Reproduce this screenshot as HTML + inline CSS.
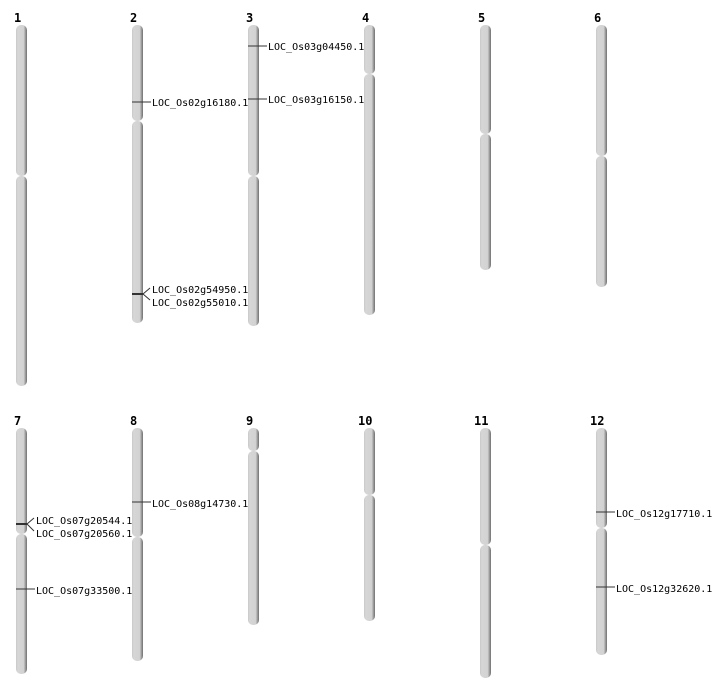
<!DOCTYPE html>
<html><head><meta charset="utf-8"><style>
html,body{margin:0;padding:0;background:#fff;}
svg{display:block;}
text{font-family:"DejaVu Sans Mono","Liberation Mono",monospace;font-size:10px;fill:#000;}
.n{font-family:"DejaVu Sans Mono","Liberation Mono",monospace;font-weight:bold;font-size:12px;}
</style></head><body>
<svg width="712" height="700" viewBox="0 0 712 700" xmlns="http://www.w3.org/2000/svg">
<defs>
<linearGradient id="g" x1="0" x2="1" y1="0" y2="0">
<stop offset="0" stop-color="#c8c8c8"/>
<stop offset="0.15" stop-color="#d6d6d6"/>
<stop offset="0.7" stop-color="#d2d2d2"/>
<stop offset="0.82" stop-color="#a8a8a8"/>
<stop offset="1" stop-color="#707070"/>
</linearGradient>
</defs>
<g fill="url(#g)">
<!-- top row -->
<rect x="16" y="25" width="11" height="151" rx="5"/><rect x="16" y="176" width="11" height="210" rx="5"/>
<rect x="132" y="25" width="11" height="96" rx="5"/><rect x="132" y="121" width="11" height="202" rx="5"/>
<rect x="248" y="25" width="11" height="151" rx="5"/><rect x="248" y="176" width="11" height="150" rx="5"/>
<rect x="364" y="25" width="11" height="49" rx="5"/><rect x="364" y="74" width="11" height="241" rx="5"/>
<rect x="480" y="25" width="11" height="109" rx="5"/><rect x="480" y="134" width="11" height="136" rx="5"/>
<rect x="596" y="25" width="11" height="131" rx="5"/><rect x="596" y="156" width="11" height="131" rx="5"/>
<!-- bottom row -->
<rect x="16" y="428" width="11" height="106" rx="5"/><rect x="16" y="534" width="11" height="140" rx="5"/>
<rect x="132" y="428" width="11" height="109" rx="5"/><rect x="132" y="537" width="11" height="124" rx="5"/>
<rect x="248" y="428" width="11" height="23" rx="5"/><rect x="248" y="451" width="11" height="174" rx="5"/>
<rect x="364" y="428" width="11" height="67" rx="5"/><rect x="364" y="495" width="11" height="126" rx="5"/>
<rect x="480" y="428" width="11" height="117" rx="5"/><rect x="480" y="545" width="11" height="133" rx="5"/>
<rect x="596" y="428" width="11" height="100" rx="5"/><rect x="596" y="528" width="11" height="127" rx="5"/>
</g>
<g class="n">
<text class="n" x="14" y="22">1</text><text class="n" x="130" y="22">2</text><text class="n" x="246" y="22">3</text>
<text class="n" x="362" y="22">4</text><text class="n" x="478" y="22">5</text><text class="n" x="594" y="22">6</text>
<text class="n" x="14" y="425">7</text><text class="n" x="130" y="425">8</text><text class="n" x="246" y="425">9</text>
<text class="n" x="358" y="425">10</text><text class="n" x="474" y="425">11</text><text class="n" x="590" y="425">12</text>
</g>
<g stroke="#333" stroke-width="1" fill="none">
<line x1="132" y1="102" x2="151" y2="102"/>
<line x1="248" y1="46" x2="267" y2="46"/>
<line x1="248" y1="99" x2="267" y2="99"/>
<line x1="132" y1="294" x2="143" y2="294" stroke-width="2"/>
<line x1="143" y1="294" x2="150" y2="288"/><line x1="143" y1="294" x2="150" y2="300"/>
<line x1="16" y1="524" x2="27" y2="524" stroke-width="2"/>
<line x1="27" y1="524" x2="34" y2="518"/><line x1="27" y1="524" x2="34" y2="531"/>
<line x1="16" y1="589" x2="35" y2="589"/>
<line x1="132" y1="502" x2="151" y2="502"/>
<line x1="596" y1="512" x2="615" y2="512"/>
<line x1="596" y1="587" x2="615" y2="587"/>
</g>
<text x="152" y="106">LOC_Os02g16180.1</text>
<text x="268" y="50">LOC_Os03g04450.1</text>
<text x="268" y="103">LOC_Os03g16150.1</text>
<text x="152" y="293">LOC_Os02g54950.1</text>
<text x="152" y="306">LOC_Os02g55010.1</text>
<text x="36" y="524">LOC_Os07g20544.1</text>
<text x="36" y="537">LOC_Os07g20560.1</text>
<text x="36" y="594">LOC_Os07g33500.1</text>
<text x="152" y="507">LOC_Os08g14730.1</text>
<text x="616" y="517">LOC_Os12g17710.1</text>
<text x="616" y="592">LOC_Os12g32620.1</text>
</svg>
</body></html>
